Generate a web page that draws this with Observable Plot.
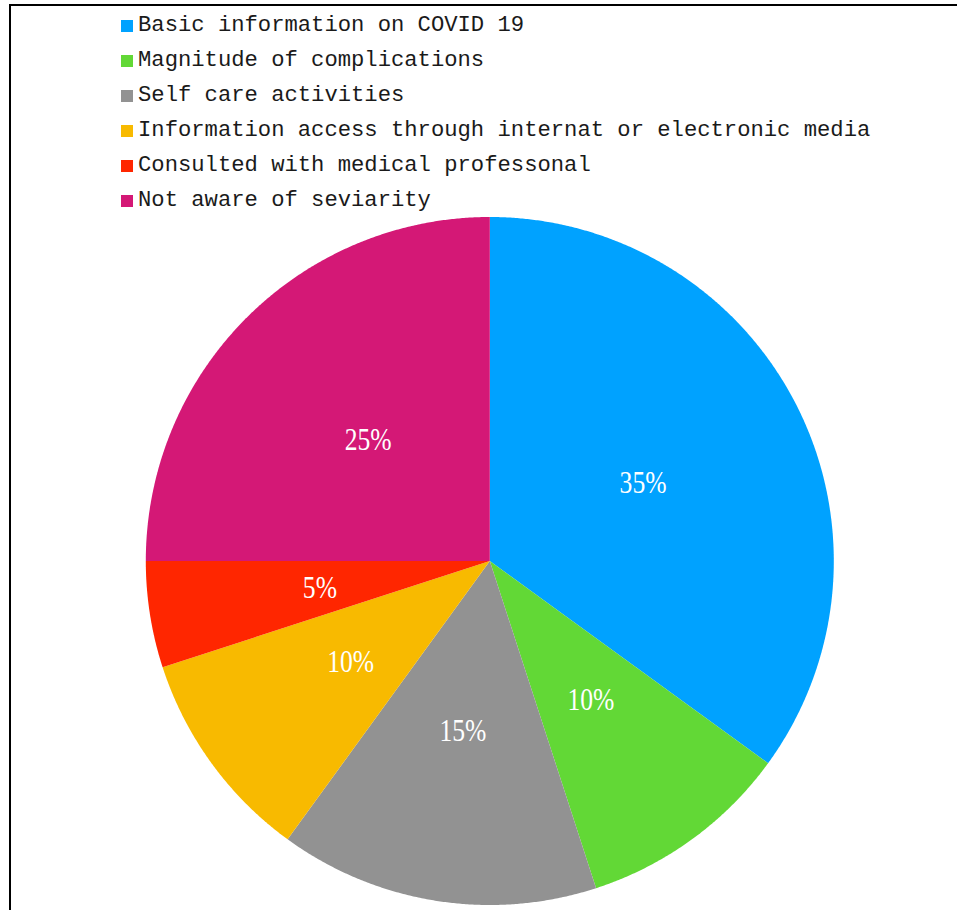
<!DOCTYPE html>
<html>
<head>
<meta charset="utf-8">
<script src="https://cdn.jsdelivr.net/npm/d3@7"></script>
<script src="https://cdn.jsdelivr.net/npm/@observablehq/plot@0.6"></script>
<style>
  html, body { margin: 0; padding: 0; background: #fff; overflow: hidden; }
  #page { position: relative; width: 957px; height: 910px; overflow: hidden; }
  #frame { position: absolute; left: 9px; top: 4px; width: 2000px; height: 2000px;
           border-left: 2px solid #000; border-top: 2px solid #000; pointer-events: none; }
  #chart { position: absolute; left: 0; top: 0; }
  #legend { position: absolute; left: 0; top: 0; }
  .row { position: absolute; left: 121px; height: 35px; display: flex; align-items: center;
         font-family: "Liberation Mono", monospace; font-size: 22.2px; color: #1a1a1a; white-space: pre; }
  .sw { width: 12px; height: 12px; margin-right: 5px; }
</style>
</head>
<body>
<div id="page">
  <div id="chart"></div>
  <div id="frame"></div>
  <div id="legend"></div>
</div>
<script>
const categories = [
  "Basic information on COVID 19",
  "Magnitude of complications",
  "Self care activities",
  "Information access through internat or electronic media",
  "Consulted with medical professonal",
  "Not aware of seviarity"
];
const values = [35, 10, 15, 10, 5, 25];
const colors = ["#00A2FF", "#62D836", "#929292", "#F8BA00", "#FF2600", "#D41876"];

const W = 957, H = 910, cx = 489.3, cy = 560.5, R = 344;

const arcs = d3.pie().sort(null).value(d => d)(values).map((a, i) => ({...a, cat: categories[i]}));

// polygon outline of each slice, in unit-radius coordinates
const pts = [];
for (const a of arcs) {
  pts.push({cat: a.cat, x: 0, y: 0});
  const n = Math.max(8, Math.ceil((a.endAngle - a.startAngle) / 0.005));
  for (let k = 0; k <= n; k++) {
    const t = a.startAngle + (a.endAngle - a.startAngle) * k / n;
    pts.push({cat: a.cat, x: Math.sin(t), y: Math.cos(t)});
  }
  pts.push({cat: a.cat, x: 0, y: 0});
}

const mid = a => (a.startAngle + a.endAngle) / 2;

const chart = Plot.plot({
  width: W, height: H,
  margin: 0,
  x: {axis: null, domain: [-cx / R, (W - cx) / R]},
  y: {axis: null, domain: [-(H - cy) / R, cy / R]},
  color: {domain: categories, range: colors},
  style: {background: "transparent"},
  marks: [
    Plot.line(pts, {x: "x", y: "y", z: "cat", fill: "cat", stroke: null, curve: "linear"}),
    Plot.text(arcs, {
      x: a => 0.5 * Math.sin(mid(a)),
      y: a => 0.5 * Math.cos(mid(a)),
      text: a => a.value + "%",
      fill: "white",
      fontSize: 32,
      fontFamily: "Liberation Serif",
      lineAnchor: "middle",
      className: "pct"
    })
  ]
});
document.getElementById("chart").appendChild(chart);

// condense the percentage labels horizontally (narrow serif look), about their own centre
chart.querySelectorAll(".pct text").forEach(t => {
  const b = t.getBBox();
  const mx = b.x + b.width / 2;
  const prev = t.getAttribute("transform") || "";
  t.setAttribute("transform", `${prev} translate(${mx},0) scale(0.8,1) translate(${-mx},0)`);
});

const leg = document.getElementById("legend");
categories.forEach((c, i) => {
  const row = document.createElement("div");
  row.className = "row";
  row.style.top = (8 + i * 35) + "px";
  const sw = document.createElement("div");
  sw.className = "sw";
  sw.style.background = colors[i];
  const tx = document.createElement("span");
  tx.textContent = c;
  row.appendChild(sw);
  row.appendChild(tx);
  leg.appendChild(row);
});
</script>
</body>
</html>
